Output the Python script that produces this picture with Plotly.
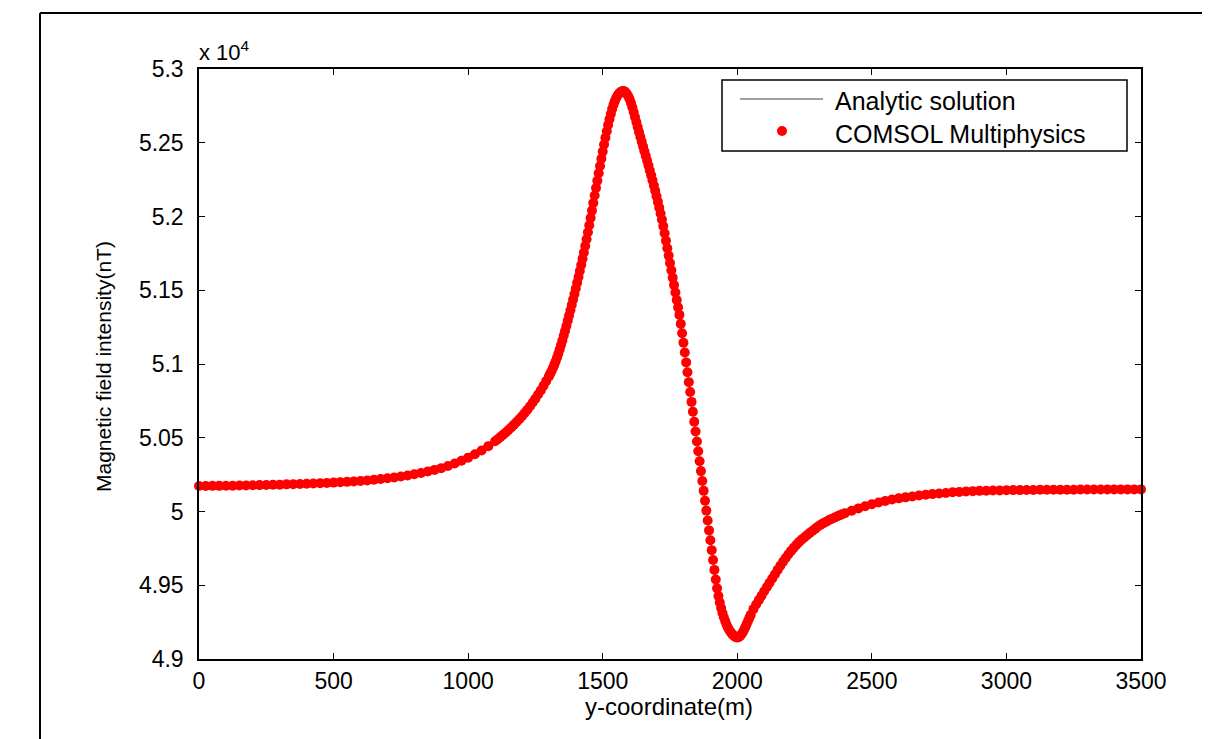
import plotly.graph_objects as go

# (y-coordinate in m, magnetic field intensity in nT)
west_tail = [
    (0, 50173), (25, 50173), (50, 50174), (75, 50174), (100, 50175), (125, 50175),
    (150, 50176), (175, 50177), (200, 50178), (225, 50179), (250, 50180), (275, 50181),
    (300, 50182), (325, 50184), (350, 50185), (375, 50187), (400, 50188), (425, 50190),
    (450, 50192), (475, 50194), (500, 50196), (525, 50199), (550, 50201), (575, 50204),
    (600, 50207), (625, 50211), (650, 50215), (675, 50220), (700, 50225), (725, 50231),
    (750, 50237), (775, 50244), (800, 50252), (825, 50261), (850, 50271), (875, 50282),
    (900, 50294), (925, 50308), (950, 50325), (975, 50344), (1000, 50365), (1025, 50388),
    (1050, 50414), (1075, 50443),
]
west_flank = [
    (1100, 50476), (1110, 50490), (1120, 50505), (1130, 50520), (1140, 50536),
    (1150, 50552), (1160, 50570), (1170, 50588), (1180, 50607), (1190, 50626),
    (1200, 50646), (1210, 50668), (1220, 50690), (1230, 50713), (1240, 50739),
    (1250, 50765), (1260, 50793), (1270, 50821), (1280, 50852), (1290, 50884),
]
anomaly_core = [
    (1300, 50916), (1305, 50934), (1310, 50953), (1315, 50973), (1320, 50994),
    (1325, 51017), (1330, 51042), (1335, 51069), (1340, 51098), (1345, 51128),
    (1350, 51159), (1355, 51191), (1360, 51224), (1365, 51258), (1370, 51293),
    (1375, 51328), (1380, 51364), (1385, 51400), (1390, 51437), (1395, 51474),
    (1400, 51512), (1405, 51551), (1410, 51590), (1415, 51630), (1420, 51671),
    (1425, 51713), (1430, 51756), (1435, 51800), (1440, 51846), (1445, 51893),
    (1450, 51941), (1455, 51990), (1460, 52040), (1465, 52091), (1470, 52142),
    (1475, 52193), (1480, 52243), (1485, 52293), (1490, 52342), (1495, 52391),
    (1500, 52440), (1505, 52488), (1510, 52534), (1515, 52578), (1520, 52620),
    (1525, 52659), (1530, 52695), (1535, 52728), (1540, 52757), (1545, 52782),
    (1550, 52803), (1555, 52820), (1560, 52833), (1565, 52842), (1570, 52848),
    (1575, 52851), (1580, 52849), (1585, 52842), (1590, 52831), (1595, 52815),
    (1600, 52795), (1605, 52770), (1610, 52741), (1615, 52708), (1620, 52674),
    (1625, 52640), (1630, 52606), (1635, 52572), (1640, 52539), (1645, 52506),
    (1650, 52474), (1655, 52442), (1660, 52410), (1665, 52378), (1670, 52345),
    (1675, 52312), (1680, 52279), (1685, 52245), (1690, 52210), (1695, 52174),
    (1700, 52137), (1705, 52099), (1710, 52060), (1715, 52020), (1720, 51980),
    (1725, 51935), (1730, 51886), (1735, 51836), (1740, 51785), (1745, 51735),
    (1750, 51685), (1755, 51635), (1760, 51585), (1765, 51535), (1770, 51485),
    (1775, 51434), (1780, 51384), (1785, 51333), (1790, 51272), (1795, 51209),
    (1800, 51144), (1805, 51078), (1810, 51011), (1815, 50944), (1820, 50877),
    (1825, 50810), (1830, 50743), (1835, 50676), (1840, 50609), (1845, 50542),
    (1850, 50475), (1855, 50408), (1860, 50341), (1865, 50274), (1870, 50207),
    (1875, 50140), (1880, 50073), (1885, 50006), (1890, 49939), (1895, 49872),
    (1900, 49805), (1905, 49738), (1910, 49671), (1915, 49604), (1920, 49539),
    (1925, 49479), (1930, 49427), (1935, 49383), (1940, 49345), (1945, 49312),
    (1950, 49283), (1955, 49257), (1960, 49234), (1965, 49214), (1970, 49197),
    (1975, 49183), (1980, 49171), (1985, 49161), (1990, 49153), (1995, 49148),
    (2000, 49146), (2005, 49148), (2010, 49155), (2015, 49166), (2020, 49180),
    (2025, 49197), (2030, 49216), (2035, 49237), (2040, 49258), (2045, 49279),
    (2050, 49299),
]
east_flank = [
    (2060, 49338), (2070, 49369), (2080, 49399), (2090, 49429), (2100, 49459),
    (2110, 49488), (2120, 49517), (2130, 49546), (2140, 49575), (2150, 49604),
    (2160, 49632), (2170, 49659), (2180, 49685), (2190, 49710), (2200, 49733),
    (2210, 49755), (2220, 49775), (2230, 49794), (2240, 49811), (2250, 49826),
    (2260, 49841), (2270, 49856), (2280, 49870), (2290, 49884), (2300, 49898),
    (2310, 49910), (2320, 49921), (2330, 49931), (2340, 49941), (2350, 49950),
    (2360, 49958), (2370, 49966), (2380, 49974), (2390, 49981), (2400, 49988),
]
east_tail = [
    (2425, 50005), (2450, 50021), (2475, 50036), (2500, 50049), (2525, 50061),
    (2550, 50072), (2575, 50081), (2600, 50089), (2625, 50096), (2650, 50102),
    (2675, 50108), (2700, 50113), (2725, 50118), (2750, 50122), (2775, 50126),
    (2800, 50130), (2825, 50133), (2850, 50136), (2875, 50138), (2900, 50140),
    (2925, 50141), (2950, 50142), (2975, 50143), (3000, 50144), (3025, 50145),
    (3050, 50145), (3075, 50146), (3100, 50146), (3125, 50147), (3150, 50147),
    (3175, 50147), (3200, 50148), (3225, 50148), (3250, 50148), (3275, 50149),
    (3300, 50149), (3325, 50149), (3350, 50149), (3375, 50150), (3400, 50150),
    (3425, 50150), (3450, 50150), (3475, 50150), (3500, 50150),
]

x_ticks = [0, 500, 1000, 1500, 2000, 2500, 3000, 3500]
y_ticks = [49000, 49500, 50000, 50500, 51000, 51500, 52000, 52500, 53000]
y_tick_labels = ["4.9", "4.95", "5", "5.05", "5.1", "5.15", "5.2", "5.25", "5.3"]
legend_names = ["Analytic solution", "COMSOL Multiphysics"]

points = west_tail + west_flank + anomaly_core + east_flank + east_tail
y_coord_m = [p[0] for p in points]
b_comsol_nT = [p[1] for p in points]
b_analytic_nT = list(b_comsol_nT)  # coincides with COMSOL at this scale

FONT = "Liberation Sans, Arial, sans-serif"

# page has an 8 px body margin: figure is 1202x731 drawn at (8, 8)
OFF = 8
W, H = 1202, 731
PL, PR, PT, PB = 199, 1141, 69, 659          # plot area in page pixels
L, T = PL - OFF, PT - OFF
R = W - (PR - OFF)
B = H - (PB - OFF)
pw, ph = PR - PL, PB - PT


def px(xp):
    return (xp - PL) / pw


def py(yp):
    return (PB - yp) / ph


fig = go.Figure()
fig.add_trace(go.Scatter(
    x=y_coord_m, y=b_analytic_nT, mode="lines", name=legend_names[0],
    line=dict(color="#6e6e6e", width=1), cliponaxis=False, showlegend=False,
))
fig.add_trace(go.Scatter(
    x=y_coord_m, y=b_comsol_nT, mode="markers", name=legend_names[1],
    marker=dict(color="#ff0000", size=10, line=dict(width=0)),
    cliponaxis=False, showlegend=False,
))

axis_common = dict(
    showline=True, linecolor="black", linewidth=1.5, mirror="ticks",
    ticks="inside", ticklen=6, tickcolor="black", tickwidth=1,
    showgrid=False, zeroline=False,
    tickfont=dict(family=FONT, size=23, color="black"),
)

annotations = [
    dict(text="x 10<sup>4</sup>", x=px(197), y=py(51), xref="paper", yref="paper",
         xanchor="left", yanchor="middle", showarrow=False,
         font=dict(family=FONT, size=22, color="black")),
    dict(text="y-coordinate(m)", x=px(669), y=py(706), xref="paper", yref="paper",
         xanchor="center", yanchor="middle", showarrow=False,
         font=dict(family=FONT, size=24, color="black")),
    dict(text="Magnetic field intensity(nT)", x=px(103), y=py(367), xref="paper",
         yref="paper", xanchor="center", yanchor="middle", showarrow=False,
         textangle=-90, font=dict(family=FONT, size=21, color="black")),
    dict(text=legend_names[0], x=px(833), y=py(101), xref="paper", yref="paper",
         xanchor="left", yanchor="middle", showarrow=False,
         font=dict(family=FONT, size=25, color="black")),
    dict(text=legend_names[1], x=px(833), y=py(134), xref="paper", yref="paper",
         xanchor="left", yanchor="middle", showarrow=False,
         font=dict(family=FONT, size=25, color="black")),
]

shapes = [
    # outer figure frame (top and left edges)
    dict(type="line", xref="paper", yref="paper", x0=px(40), y0=py(13),
         x1=px(1215), y1=py(13), line=dict(color="black", width=2)),
    dict(type="line", xref="paper", yref="paper", x0=px(40), y0=py(13),
         x1=px(40), y1=py(745), line=dict(color="black", width=2)),
    # legend box and keys
    dict(type="rect", xref="paper", yref="paper", x0=px(722), y0=py(151),
         x1=px(1127), y1=py(80), line=dict(color="black", width=1.5),
         fillcolor="white", layer="above"),
    dict(type="line", xref="paper", yref="paper", x0=px(740), y0=py(99),
         x1=px(823), y1=py(99), line=dict(color="#808080", width=1.5), layer="above"),
    dict(type="circle", xref="paper", yref="paper", x0=px(777), y0=py(136),
         x1=px(787), y1=py(126), line=dict(color="#ff0000", width=0),
         fillcolor="#ff0000", layer="above"),
]

fig.update_layout(
    width=W, height=H,
    margin=dict(l=L, r=R, t=T, b=B, pad=0),
    paper_bgcolor="white", plot_bgcolor="white",
    font=dict(family=FONT, color="black"),
    xaxis=dict(range=[0, 3500], tickvals=x_ticks, ticklabelstandoff=1, **axis_common),
    yaxis=dict(range=[49000, 53000], tickvals=y_ticks, ticktext=y_tick_labels,
               ticklabelstandoff=9, **axis_common),
    showlegend=False,
    annotations=annotations,
    shapes=shapes,
)

fig.write_html("out.html")
